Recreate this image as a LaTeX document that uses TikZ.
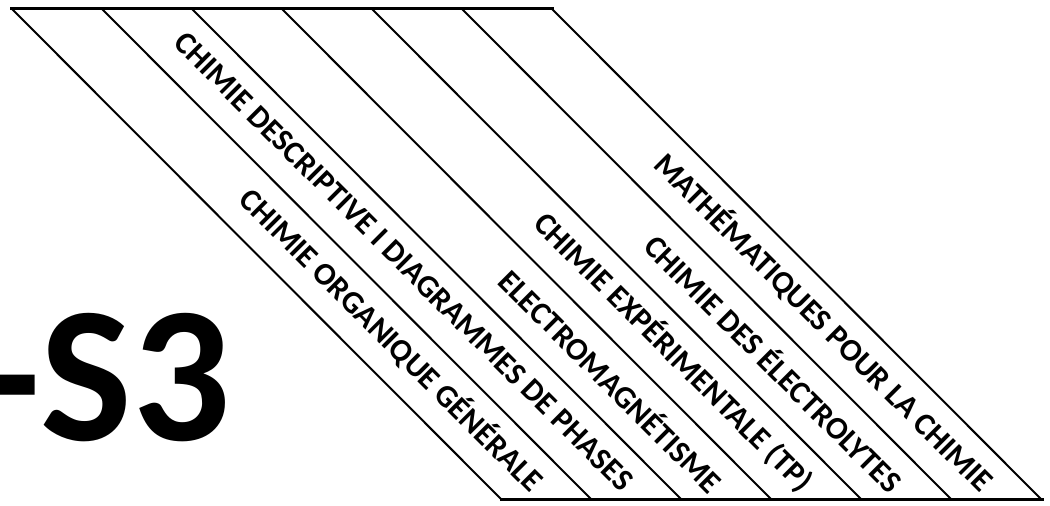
\documentclass[tikz,border=0pt]{standalone}
\usepackage{fontspec}
\setmainfont{Carlito}
\usepackage{tikz}
\tikzset{strip/.style = {line width=2pt},
         rail/.style = {line width=3pt},
         subject/.style = {rotate=-45, anchor=east, inner sep=0pt,
                           font=\bfseries\fontsize{31.6}{32}\selectfont}}

\begin{document}
\begin{tikzpicture}[x=1pt, y=1pt]
      \useasboundingbox (0, 0) rectangle (1050, 506);
      \clip (0, 0) rectangle (1050, 506);

      \draw [rail] (10, 497) -- (554, 497);
      \draw [rail] (500, 6) -- (1044, 6);

      \draw [strip] (12, 497) -- (502, 6);
      \draw [strip] (102, 497) -- (592, 6);
      \draw [strip] (192, 497) -- (682, 6);
      \draw [strip] (282, 497) -- (772, 6);
      \draw [strip] (372, 497) -- (862, 6);
      \draw [strip] (462, 497) -- (952, 6);
      \draw [strip] (552, 497) -- (1042, 6);

      \node [subject] (organique) at (538, 20) {CHIMIE ORGANIQUE GÉNÉRALE};
      \node [subject] (descriptive) at (628, 20) {CHIMIE DESCRIPTIVE I DIAGRAMMES DE PHASES};
      \node [subject] (electro) at (718, 20) {ELECTROMAGNÉTISME};
      \node [subject] (experimentale) at (808, 20) {CHIMIE EXPÉRIMENTALE (TP)};
      \node [subject] (electrolytes) at (898, 20) {CHIMIE DES ÉLECTROLYTES};
      \node [subject] (maths) at (988, 20) {MATHÉMATIQUES POUR LA CHIMIE};

      \node [anchor=base east, inner sep=0pt,
             font=\bfseries\fontsize{194}{194}\selectfont] (semestre) at (231, 65) {-S3};
    \end{tikzpicture}
\end{document}
